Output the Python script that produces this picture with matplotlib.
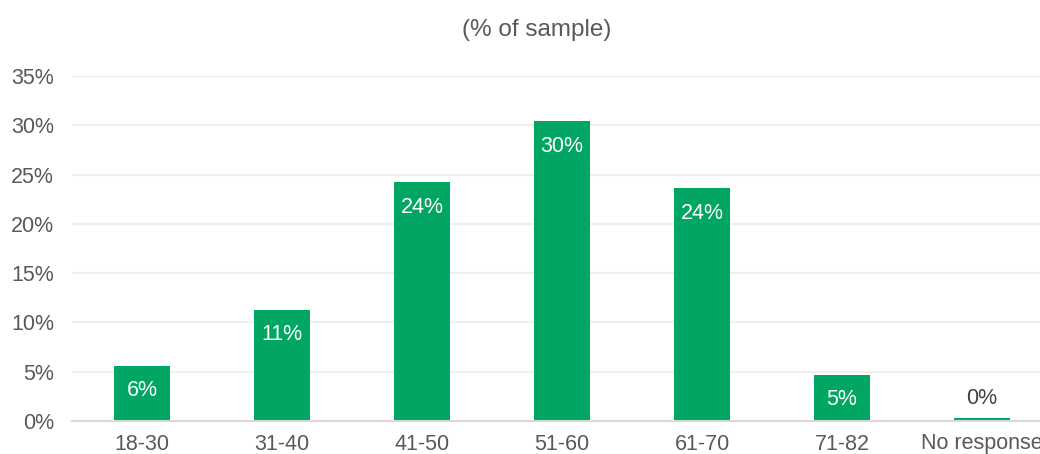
import matplotlib.pyplot as plt
from matplotlib.ticker import FuncFormatter

plt.rcParams['font.family'] = ['Liberation Sans', 'DejaVu Sans']

age_groups = ['18-30', '31-40', '41-50', '51-60', '61-70', '71-82', 'No response']
share = [5.6, 11.3, 24.2, 30.4, 23.6, 4.7, 0.3]   # % of sample
y_ticks = [0, 5, 10, 15, 20, 25, 30, 35]

green = '#00A661'
grey = '#595959'

fig = plt.figure(figsize=(10.4, 4.54), dpi=100)
ax = fig.add_axes([72/1040, 33/454, 980/1040, 345/454])

x = list(range(len(age_groups)))
ax.bar(x, share, width=0.4, color=green, zorder=2)

for xi, v in zip(x, share):
    label = f'{round(v):.0f}%'
    if v >= 2:
        ax.annotate(label, (xi, v), xytext=(0, -18), textcoords='offset points',
                    ha='center', va='center', color='white', fontsize=15.5)
    else:
        ax.annotate(label, (xi, v), xytext=(0, 14), textcoords='offset points',
                    ha='center', va='center', color='#404040', fontsize=15.5)

ax.set_xlim(-0.5, len(age_groups) - 0.5)
ax.set_ylim(0, 35)
ax.set_yticks(y_ticks)
ax.yaxis.set_major_formatter(FuncFormatter(lambda v, p: f'{v:.0f}%'))
ax.set_xticks(x)
ax.set_xticklabels(age_groups)

ax.grid(axis='y', color='#EFEFEF', linewidth=1.5, zorder=0)
for s in ['top', 'right', 'left']:
    ax.spines[s].set_visible(False)
ax.spines['bottom'].set_color('#D9D9D9')
ax.spines['bottom'].set_linewidth(1.5)
ax.spines['bottom'].set_zorder(3)

ax.tick_params(axis='both', length=0, labelsize=15.5, labelcolor=grey)
ax.tick_params(axis='y', pad=13)
ax.tick_params(axis='x', pad=9)

fig.text(537/1040, 1 - 30/454, '(% of sample)', ha='center', va='center',
         fontsize=17.5, color=grey)

fig.savefig('out.png', dpi=100)
